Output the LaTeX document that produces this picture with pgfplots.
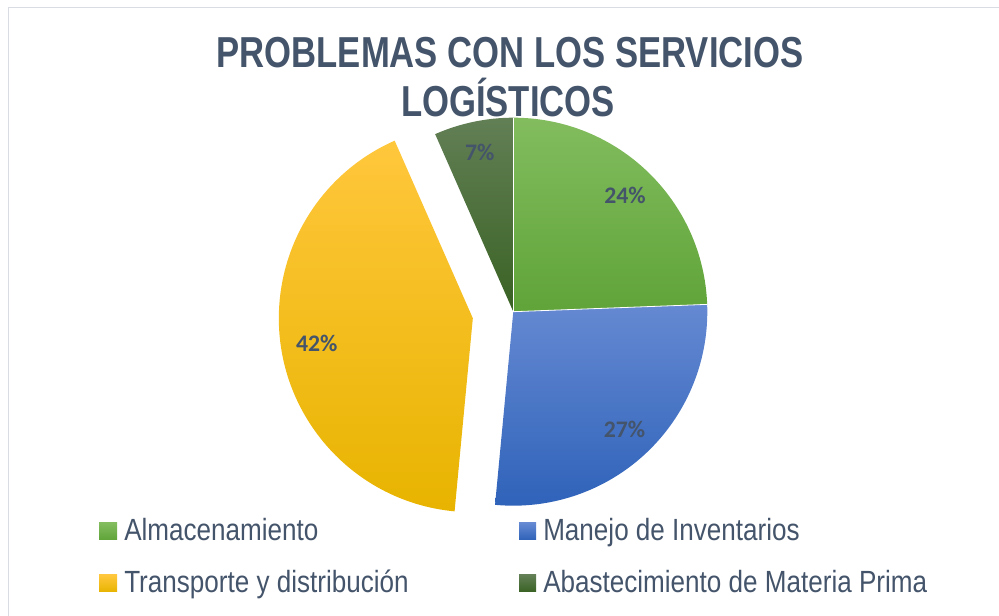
\documentclass[border=0pt]{standalone}
\usepackage{pgfplots}
\pgfplotsset{compat=1.18}
\usepackage{pgfplotstable}
\usepackage{fontspec}
\setmainfont{Liberation Sans}
\newfontfamily\legfont[FakeStretch=0.85]{Liberation Sans}
\newfontfamily\titfont[FakeStretch=0.80]{Liberation Sans}
\newfontfamily\labfont{Carlito}
\definecolor{txt}{HTML}{44546A}
\definecolor{frame}{HTML}{D9DDE3}
\definecolor{gTop}{HTML}{82BC5E}
\definecolor{gBot}{HTML}{60A439}
\definecolor{bTop}{HTML}{6589D2}
\definecolor{bBot}{HTML}{2E62B9}
\definecolor{yTop}{HTML}{FFC73C}
\definecolor{yBot}{HTML}{E8B400}
\definecolor{dTop}{HTML}{627F55}
\definecolor{dBot}{HTML}{3A6224}

\pgfplotstableread{
value
24.4
27.1
41.9
6.6
}\piedata

\begin{document}
\begin{tikzpicture}
% read values
\pgfplotstablegetelem{0}{value}\of\piedata \let\vA\pgfplotsretval
\pgfplotstablegetelem{1}{value}\of\piedata \let\vB\pgfplotsretval
\pgfplotstablegetelem{2}{value}\of\piedata \let\vC\pgfplotsretval
\pgfplotstablegetelem{3}{value}\of\piedata \let\vD\pgfplotsretval
% geometry (pixel units, y up)
\def\cx{513.3}\def\cy{304.3}\def\R{194}
\pgfmathsetmacro\RR{\R*0.75}
\pgfmathsetmacro\aA{90}
\pgfmathsetmacro\aB{\aA-3.6*\vA}
\pgfmathsetmacro\aC{\aB-3.6*\vB}
\pgfmathsetmacro\aD{\aC-3.6*\vC}
\pgfmathsetmacro\aE{\aD-3.6*\vD}
\pgfmathsetmacro\mA{(\aA+\aB)/2}
\pgfmathsetmacro\mB{(\aB+\aC)/2}
\pgfmathsetmacro\mC{(\aC+\aD)/2}
\pgfmathsetmacro\mD{(\aD+\aE)/2}
% exploded centre for slice C
\pgfmathsetmacro\cxC{\cx+41*cos(\mC)}
\pgfmathsetmacro\cyC{\cy+41*sin(\mC)}
% label positions
\pgfmathsetmacro\lxA{\cx+161*cos(\mA)}\pgfmathsetmacro\lyA{\cy+161*sin(\mA)}
\pgfmathsetmacro\lxB{\cx+162*cos(\mB)}\pgfmathsetmacro\lyB{\cy+162*sin(\mB)}
\pgfmathsetmacro\lxC{\cxC+158*cos(\mC)}\pgfmathsetmacro\lyC{\cyC+158*sin(\mC)}
\pgfmathsetmacro\lxD{\cx+163*cos(\mD)}\pgfmathsetmacro\lyD{\cy+163*sin(\mD)}
\pgfmathtruncatemacro\pA{round(\vA)}
\pgfmathtruncatemacro\pB{round(\vB)}
\pgfmathtruncatemacro\pC{round(\vC)}
\pgfmathtruncatemacro\pD{round(\vD)}
\begin{axis}[
  name=ax,
  x=0.75pt, y=0.75pt,
  xmin=0, xmax=999, ymin=0, ymax=616,
  hide axis, scale only axis, clip=false,
  disabledatascaling,
]
% frame
\draw[frame, line width=1.2pt] (axis cs:8.5,0) -- (axis cs:8.5,608.5) -- (axis cs:999,608.5);
% slices
\shade[top color=gTop, bottom color=gBot] (axis cs:\cx,\cy) -- ++(\aA:\RR pt) arc[start angle=\aA, end angle=\aB, radius=\RR pt] -- cycle;
\shade[top color=bTop, bottom color=bBot] (axis cs:\cx,\cy) -- ++(\aB:\RR pt) arc[start angle=\aB, end angle=\aC, radius=\RR pt] -- cycle;
\shade[top color=yTop, bottom color=yBot] (axis cs:\cxC,\cyC) -- ++(\aC:\RR pt) arc[start angle=\aC, end angle=\aD, radius=\RR pt] -- cycle;
\shade[top color=dTop, bottom color=dBot] (axis cs:\cx,\cy) -- ++(\aD:\RR pt) arc[start angle=\aD, end angle=\aE, radius=\RR pt] -- cycle;
% thin white separators
\draw[white, line width=0.6pt] (axis cs:\cx,\cy) -- ++(\aA:\RR pt);
\draw[white, line width=0.6pt] (axis cs:\cx,\cy) -- ++(\aB:\RR pt);
% data labels
\node[text=txt, font=\labfont\bfseries\fontsize{17.8}{20}\selectfont, inner sep=0pt] at (axis cs:\lxA,\lyA) {\pA\%};
\node[text=txt, font=\labfont\bfseries\fontsize{17.8}{20}\selectfont, inner sep=0pt] at (axis cs:\lxB,\lyB) {\pB\%};
\node[text=txt, font=\labfont\bfseries\fontsize{17.8}{20}\selectfont, inner sep=0pt] at (axis cs:\lxC,\lyC) {\pC\%};
\node[text=txt, font=\labfont\bfseries\fontsize{17.8}{20}\selectfont, inner sep=0pt] at (axis cs:\lxD,\lyD) {\pD\%};
% title
\node[text=txt, font=\titfont\bfseries\fontsize{32.5}{36}\selectfont, anchor=base, inner sep=0pt] at (axis cs:510,548) {PROBLEMAS CON LOS SERVICIOS};
\node[text=txt, font=\titfont\bfseries\fontsize{32.5}{36}\selectfont, anchor=base, inner sep=0pt] at (axis cs:508,499) {LOGÍSTICOS};
% legend
\shade[top color=gTop, bottom color=gBot] (axis cs:99,93) rectangle (axis cs:117,76);
\shade[top color=yTop, bottom color=yBot] (axis cs:99,41) rectangle (axis cs:117,24);
\shade[top color=bTop, bottom color=bBot] (axis cs:519,93) rectangle (axis cs:536,76);
\shade[top color=dTop, bottom color=dBot] (axis cs:519,41) rectangle (axis cs:536,24);
\node[text=txt, font=\legfont\fontsize{23}{26}\selectfont, anchor=base west, inner sep=0pt] at (axis cs:124,75) {Almacenamiento};
\node[text=txt, font=\legfont\fontsize{23}{26}\selectfont, anchor=base west, inner sep=0pt] at (axis cs:124,23) {Transporte y distribución};
\node[text=txt, font=\legfont\fontsize{23}{26}\selectfont, anchor=base west, inner sep=0pt] at (axis cs:543,75) {Manejo de Inventarios};
\node[text=txt, font=\legfont\fontsize{23}{26}\selectfont, anchor=base west, inner sep=0pt] at (axis cs:543,23) {Abastecimiento de Materia Prima};
\end{axis}
\pgfresetboundingbox
\path (ax.south west) rectangle (ax.north east);
\end{tikzpicture}
\end{document}
